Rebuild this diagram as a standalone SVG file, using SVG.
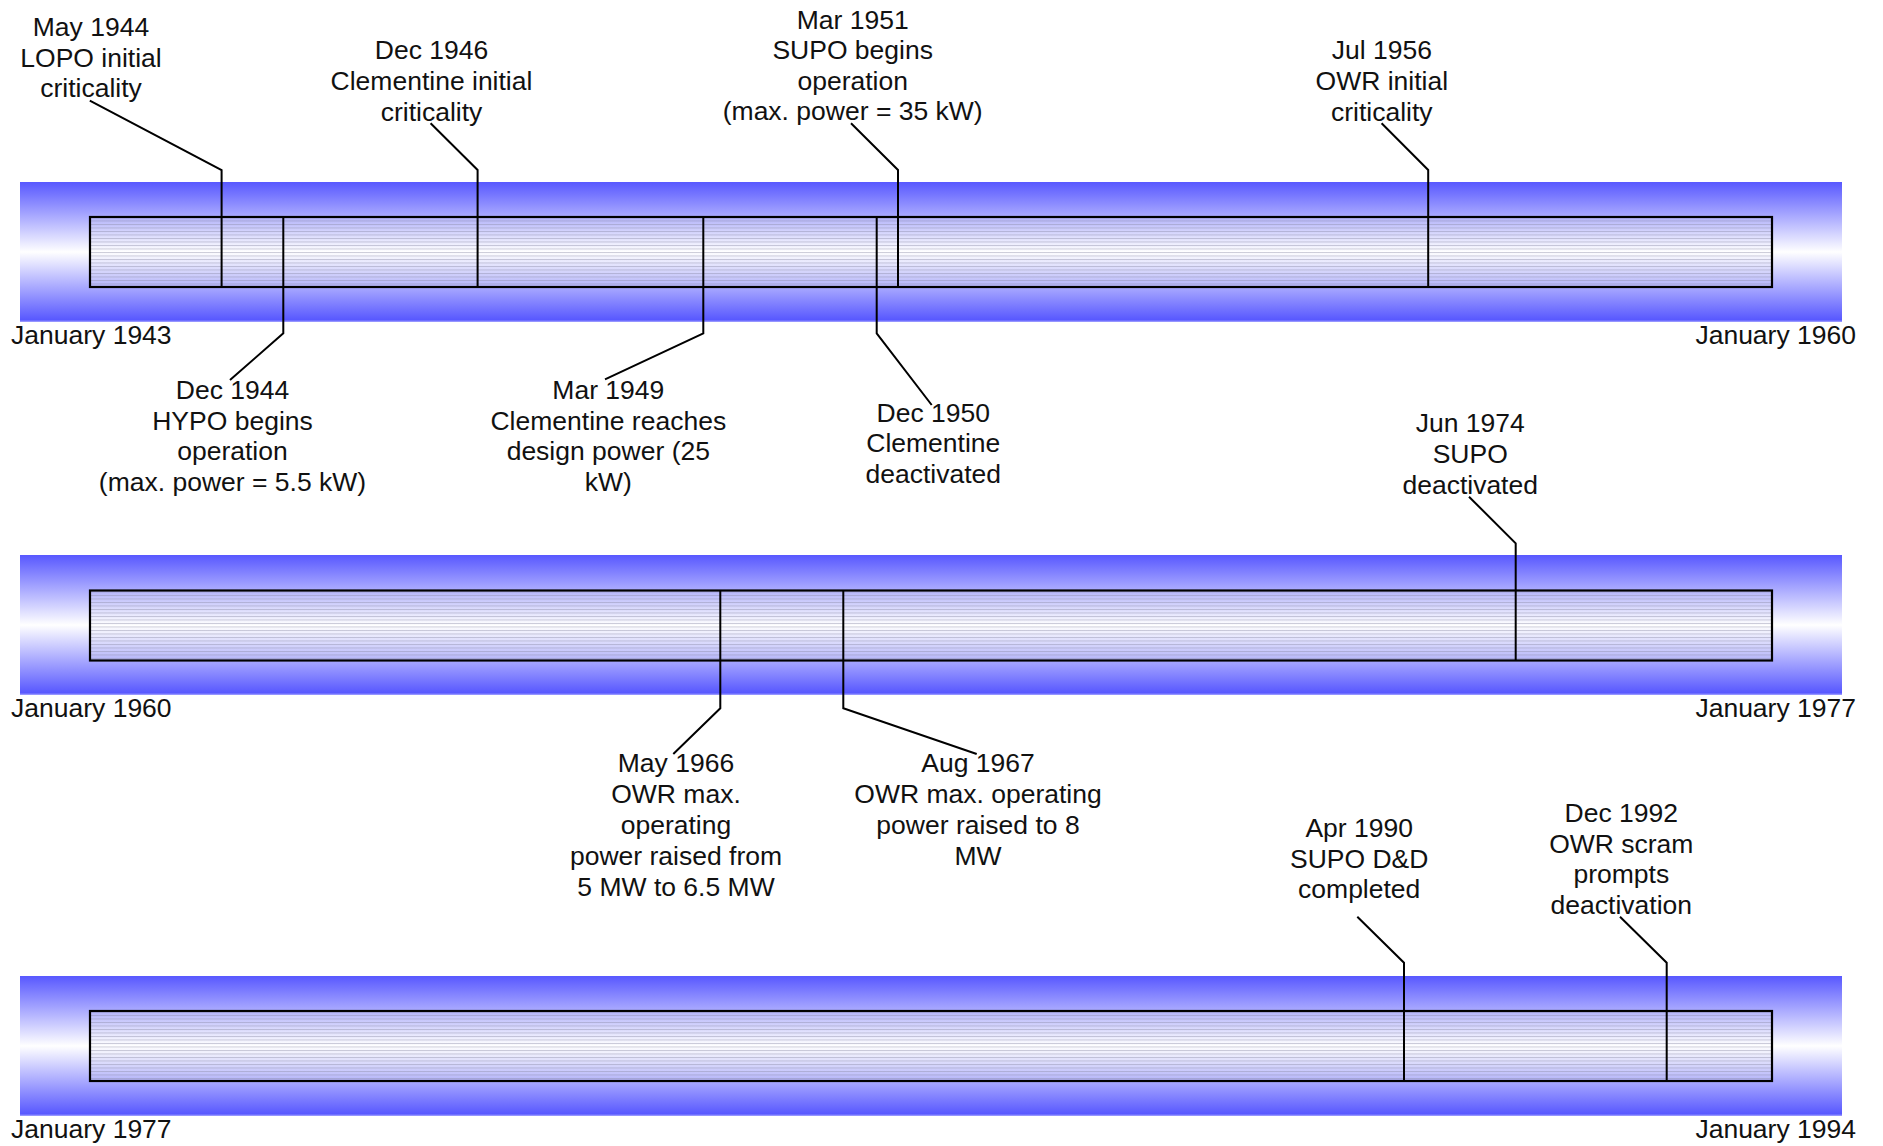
<svg xmlns="http://www.w3.org/2000/svg" width="1883" height="1146" viewBox="0 0 1883 1146">
<style>
text{font-family:"Liberation Sans",Arial,sans-serif;font-size:26.5px;fill:#111;}
.c{text-anchor:middle;}
.e{text-anchor:end;}
.band{fill:url(#bandGrad);}
.inner{fill:url(#innerGrad);stroke:none;}
.hatch{fill:url(#hatch);stroke:none;}
.frame{fill:none;stroke:#000;stroke-width:2.2;}
.lead{fill:none;stroke:#000;stroke-width:2;stroke-linejoin:miter;}
</style>
<defs>
<linearGradient id="bandGrad" x1="0" y1="0" x2="0" y2="1">
<stop offset="0" stop-color="#5858ff"/>
<stop offset="0.5" stop-color="#ffffff"/>
<stop offset="0.985" stop-color="#5858ff"/>
<stop offset="1" stop-color="#a8a8ff"/>
</linearGradient>
<linearGradient id="innerGrad" x1="0" y1="0" x2="0" y2="1">
<stop offset="0" stop-color="#b4b4fa"/>
<stop offset="0.5" stop-color="#ffffff"/>
<stop offset="1" stop-color="#b4b4fa"/>
</linearGradient>
<pattern id="hatch" patternUnits="userSpaceOnUse" x="0" y="0" width="20" height="3.5">
<line x1="0" y1="0.5" x2="20" y2="0.5" stroke="#8a8aa6" stroke-width="0.8" stroke-opacity="0.55"/>
</pattern>
</defs>
<rect width="1883" height="1146" fill="#ffffff"/>

<g id="timeline1">
<rect class="band" x="20" y="182" width="1822" height="140"/>
<rect class="inner" x="90" y="217" width="1682" height="70"/>
<rect class="hatch" x="90" y="217" width="1682" height="70"/>
<rect class="frame" x="90" y="217" width="1682" height="70"/>
<text x="11" y="344">January 1943</text>
<text class="e" x="1856" y="344">January 1960</text>
</g>

<g id="timeline2">
<rect class="band" x="20" y="555" width="1822" height="140"/>
<rect class="inner" x="90" y="590.5" width="1682" height="70"/>
<rect class="hatch" x="90" y="590.5" width="1682" height="70"/>
<rect class="frame" x="90" y="590.5" width="1682" height="70"/>
<text x="11" y="717">January 1960</text>
<text class="e" x="1856" y="717">January 1977</text>
</g>

<g id="timeline3">
<rect class="band" x="20" y="976" width="1822" height="140"/>
<rect class="inner" x="90" y="1011" width="1682" height="70"/>
<rect class="hatch" x="90" y="1011" width="1682" height="70"/>
<rect class="frame" x="90" y="1011" width="1682" height="70"/>
<text x="11" y="1138">January 1977</text>
<text class="e" x="1856" y="1138">January 1994</text>
</g>

<g id="connectors">
<polyline class="lead" points="89.8,100.7 221.6,170 221.6,287"/>
<polyline class="lead" points="283.3,217 283.3,333.3 230,380"/>
<polyline class="lead" points="430.6,123.3 477.6,170 477.6,287"/>
<polyline class="lead" points="703.3,217 703.3,333.3 605,379.3"/>
<polyline class="lead" points="876.7,217 876.7,333.3 931.7,405"/>
<polyline class="lead" points="851,123.3 898,170 898,287"/>
<polyline class="lead" points="1381.6,123.3 1428.2,170 1428.2,287"/>
<polyline class="lead" points="720.3,590.5 720.3,708.3 673.3,754"/>
<polyline class="lead" points="843.3,590.5 843.3,708.3 976.7,754"/>
<polyline class="lead" points="1469,496.7 1515.7,543.3 1515.7,660.5"/>
<polyline class="lead" points="1357.3,916.7 1404,962.7 1404,1081"/>
<polyline class="lead" points="1620,916.7 1666.7,962.7 1666.7,1081"/>
</g>

<g id="ev-lopo">
<text class="c" x="91" y="35.5">May 1944</text>
<text class="c" x="91" y="66.5">LOPO initial</text>
<text class="c" x="91" y="97">criticality</text>
</g>
<g id="ev-hypo">
<text class="c" x="232.5" y="399.3">Dec 1944</text>
<text class="c" x="232.5" y="429.8">HYPO begins</text>
<text class="c" x="232.5" y="460">operation</text>
<text class="c" x="232.5" y="490.5">(max. power = 5.5 kW)</text>
</g>
<g id="ev-clem-crit">
<text class="c" x="431.5" y="59.3">Dec 1946</text>
<text class="c" x="431.5" y="90">Clementine initial</text>
<text class="c" x="431.5" y="120.5">criticality</text>
</g>
<g id="ev-clem-power">
<text class="c" x="608.3" y="399.3">Mar 1949</text>
<text class="c" x="608.3" y="429.8">Clementine reaches</text>
<text class="c" x="608.3" y="460">design power (25</text>
<text class="c" x="608.3" y="490.5">kW)</text>
</g>
<g id="ev-clem-deact">
<text class="c" x="933.3" y="421.7">Dec 1950</text>
<text class="c" x="933.3" y="452.3">Clementine</text>
<text class="c" x="933.3" y="482.7">deactivated</text>
</g>
<g id="ev-supo-begin">
<text class="c" x="852.7" y="28.5">Mar 1951</text>
<text class="c" x="852.7" y="59.3">SUPO begins</text>
<text class="c" x="852.7" y="89.5">operation</text>
<text class="c" x="852.7" y="120.3">(max. power = 35 kW)</text>
</g>
<g id="ev-owr-crit">
<text class="c" x="1381.8" y="59.3">Jul 1956</text>
<text class="c" x="1381.8" y="90">OWR initial</text>
<text class="c" x="1381.8" y="120.5">criticality</text>
</g>
<g id="ev-owr-65">
<text class="c" x="676" y="771.7">May 1966</text>
<text class="c" x="676" y="803">OWR max.</text>
<text class="c" x="676" y="833.5">operating</text>
<text class="c" x="676" y="865">power raised from</text>
<text class="c" x="676" y="896">5 MW to 6.5 MW</text>
</g>
<g id="ev-owr-8">
<text class="c" x="978" y="771.7">Aug 1967</text>
<text class="c" x="978" y="803">OWR max. operating</text>
<text class="c" x="978" y="833.5">power raised to 8</text>
<text class="c" x="978" y="865">MW</text>
</g>
<g id="ev-supo-deact">
<text class="c" x="1470.2" y="431.7">Jun 1974</text>
<text class="c" x="1470.2" y="463">SUPO</text>
<text class="c" x="1470.2" y="494">deactivated</text>
</g>
<g id="ev-supo-dd">
<text class="c" x="1359.2" y="836.7">Apr 1990</text>
<text class="c" x="1359.2" y="867.7">SUPO D&amp;D</text>
<text class="c" x="1359.2" y="898.3">completed</text>
</g>
<g id="ev-owr-scram">
<text class="c" x="1621.3" y="821.7">Dec 1992</text>
<text class="c" x="1621.3" y="852.7">OWR scram</text>
<text class="c" x="1621.3" y="883">prompts</text>
<text class="c" x="1621.3" y="914">deactivation</text>
</g>
</svg>
